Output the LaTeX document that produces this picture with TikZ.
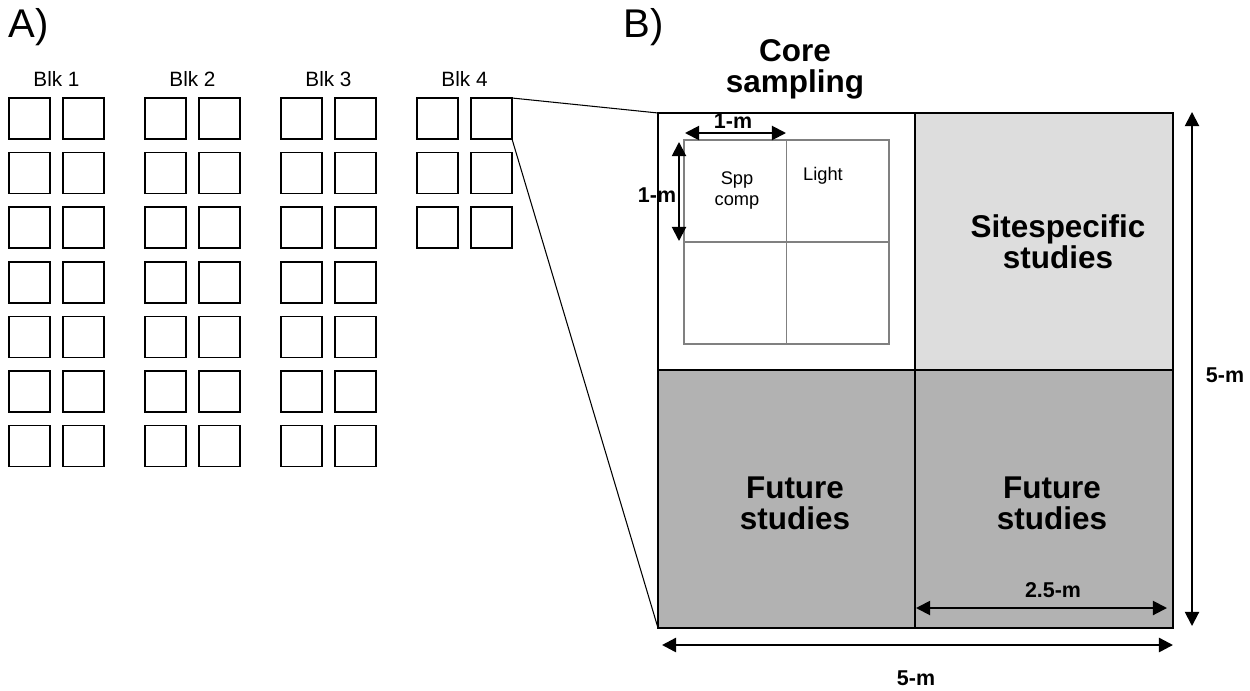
\documentclass[tikz,border=0pt]{standalone}
\usepackage{fontspec}
\setmainfont{Liberation Sans}
\usetikzlibrary{arrows.meta}
\usepackage{xcolor}

\definecolor{sitegray}{RGB}{221,221,221}
\definecolor{futuregray}{RGB}{178,178,178}

\begin{document}
\begin{tikzpicture}[x=0.02cm, y=-0.02cm,
        panel/.style={font=\fontsize{22.8}{26}\selectfont, inner sep=0pt, anchor=base west},
        blklabel/.style={font=\fontsize{11.8}{14}\selectfont, anchor=base},
        plotbox/.style={draw=black, line width=0.95pt},
        cellline/.style={draw=gray, line width=0.6pt},
        quadline/.style={draw=black, line width=0.85pt},
        zoomline/.style={black, line width=0.6pt},
        title/.style={font=\fontsize{17.9}{17.6}\selectfont\bfseries, align=center, anchor=base},
        celltext/.style={font=\fontsize{10.4}{11.5}\selectfont, align=center, anchor=base},
        dimlabel/.style={font=\fontsize{12.2}{14}\selectfont\bfseries, anchor=base},
        dimarrow/.style={{Triangle[length=8pt,width=8pt]}-{Triangle[length=8pt,width=8pt]}, line width=1.1pt}]
        \useasboundingbox (0,0) rectangle (1250,690);

        % Panel labels
        \node[panel] (labA) at (8,37) {A)};
        \node[panel] (labB) at (623,37) {B)};

        % Blocks of plots (A)
        \foreach \b/\n in {1/7, 2/7, 3/7, 4/3} {
            \pgfmathsetmacro{\bx}{9+136*(\b-1)}
            \node[blklabel] (blk\b) at (\bx+47.5, 86) {Blk \b};
            \foreach \r in {1,...,\n} {
                \foreach \c in {0, 1} {
                    \draw[plotbox] ({\bx+54*\c}, {98+54.6*(\r-1)}) rectangle ++(41,41);
                }
            }
        }

        % Corners of the enlarged plot
        \coordinate (selNE) at (512,98);
        \coordinate (selSE) at (512,139);
        \coordinate (NW) at (658,113);
        \coordinate (SW) at (658,628);

        % Plot quarters (B)
        \fill[white] (658,113) rectangle (915,370);
        \fill[sitegray] (915,113) rectangle (1173,370);
        \fill[futuregray] (658,370) rectangle (1173,628);

        % 1-m subplots
        \foreach \i in {0, 1} {
            \foreach \j in {0, 1} {
                \draw[cellline] (684+102.5*\i, 140+102*\j) rectangle ++(102.5,102);
            }
        }

        \draw[quadline] (NW) rectangle (1173,628);
        \draw[quadline] (915,113) -- (915,628);
        \draw[quadline] (658,370) -- (1173,370);

        % Zoom lines
        \draw[zoomline] (selNE) -- (NW);
        \draw[zoomline] (selSE) -- (SW);

        % Quarter labels (base = last line)
        \node[title] (core) at (795,92) {Core\\sampling};
        \node[title] (site) at (1058,268) {Sitespecific\\studies};
        \node[title] (futL) at (795,529) {Future\\studies};
        \node[title] (futR) at (1052,529) {Future\\studies};
        \node[celltext] (spp) at (737,205) {Spp\\comp};
        \node[celltext] (light) at (823,180) {Light};

        % Dimensions
        \coordinate (oneL) at (685,133);
        \coordinate (oneR) at (786,133);
        \coordinate (oneT) at (679,142);
        \coordinate (oneB) at (679,241);
        \coordinate (halfL) at (916,608);
        \coordinate (halfR) at (1167,608);
        \coordinate (fullL) at (662,645);
        \coordinate (fullR) at (1173,645);
        \coordinate (fullT) at (1192,112);
        \coordinate (fullB) at (1192,626);

        \draw[dimarrow] (oneL) -- (oneR);
        \draw[dimarrow] (oneT) -- (oneB);
        \draw[dimarrow] (halfL) -- (halfR);
        \draw[dimarrow, line width=1.4pt] (fullL) -- (fullR);
        \draw[dimarrow] (fullT) -- (fullB);

        \node[dimlabel] (oneHlab) at (733,128) {1-m};
        \node[dimlabel] (oneVlab) at (657,202) {1-m};
        \node[dimlabel] (halflab) at (1053,597) {2.5-m};
        \node[dimlabel] (fullHlab) at (916,685) {5-m};
        \node[dimlabel] (fullVlab) at (1225,382) {5-m};
    \end{tikzpicture}
\end{document}
